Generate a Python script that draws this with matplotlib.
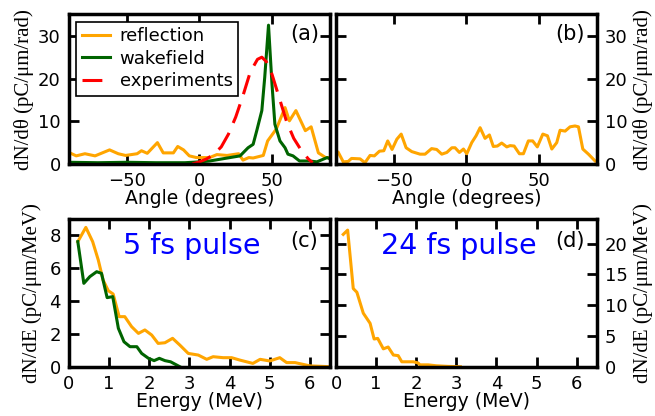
import matplotlib
matplotlib.use('Agg')
import matplotlib.pyplot as plt

# panel (a) angular distributions, 5 fs pulse
angle_refl_a = [-90, -85, -79, -72, -62, -56, -51, -43, -40, -36, -29, -25, -18, -15, -11, -7, -2,
                7, 12, 19, 27, 30, 34, 37, 44, 47, 53, 59, 62, 66.5, 73, 77, 82, 87, 90]
refl_a = [2.7, 1.9, 2.4, 1.9, 3.3, 2.4, 2.0, 2.4, 3.1, 2.5, 5.0, 2.6, 2.6, 4.1, 3.3, 1.9, 1.5,
          1.5, 2.2, 2.0, 2.4, 0.9, 1.5, 1.4, 2.0, 5.4, 8.2, 13.2, 10.1, 12.5, 7.8, 8.7, 2.6, 1.5, 1.5]
angle_wake_a = [-90, -70, -50, -30, -10, 0, 7, 14, 21, 28, 33.5, 37, 39.5, 43, 45, 47.6, 50, 52,
                55.5, 59, 61, 64.5, 69, 76, 81, 88, 90]
wake_a = [0.4, 0.3, 0.4, 0.3, 0.3, 0.5, 0.7, 1.1, 1.5, 1.9, 3.8, 4.6, 7.8, 12.5, 20.3, 32.5, 18.7, 9.3,
          5.4, 3.8, 2.3, 1.9, 0.7, 0.7, 0.5, 1.5, 1.2]
angle_exp = [-5, 0, 5, 10, 15, 20, 25, 30, 35, 40, 43, 46, 50, 55, 60, 65, 70, 75, 78]
exp_a = [0.0, 0.5, 1.2, 2.3, 4.0, 7.0, 11.0, 16.0, 21.5, 24.5, 25.0, 24.0, 21.0, 15.5, 10.0, 6.0, 3.3, 1.2, 0.3]

# panel (b) angular distribution, 24 fs pulse
angle_refl_b = [-88.4, -85, -81.6, -79.3, -73.4, -70, -66.5, -63.5, -60, -57, -54.3, -51.3, -48, -45,
                -41.6, -37.7, -32, -28.5, -24, -20.5, -17, -13.5, -10, -7.8, -4.8, -2, 0.3, 3.7, 6.7,
                9.5, 12.9, 15.9, 18.6, 21.4, 24.4, 27.9, 30.2, 33, 36.6, 39.4, 42.8, 45.8, 49, 52.8,
                56, 59, 62.4, 64.7, 68.2, 71.6, 75, 77.4, 80.4, 84.3, 88.9]
refl_b = [2.7, 0.5, 0.6, 1.3, 1.2, 0.3, 2.0, 1.9, 3.0, 3.1, 5.4, 3.4, 5.8, 7.0,
          3.8, 2.9, 2.3, 2.3, 3.6, 3.4, 2.3, 2.7, 3.8, 3.8, 2.7, 3.5, 2.4, 5.0, 6.6,
          8.5, 6.0, 6.8, 4.1, 4.2, 4.9, 4.0, 4.3, 4.2, 2.4, 2.4, 5.4, 5.4, 4.0, 7.0,
          6.6, 3.5, 5.0, 7.9, 7.7, 8.7, 8.9, 8.7, 3.5, 2.3, 0.7]

# panel (c) energy spectra, 5 fs pulse
energy_refl_c = [0.22, 0.42, 0.59, 0.73, 0.85, 0.98, 1.10, 1.25, 1.39, 1.56, 1.73, 1.89, 2.06, 2.22,
                 2.39, 2.58, 2.76, 2.97, 3.22, 3.43, 3.59, 3.84, 4.05, 4.26, 4.58, 4.76, 5.0, 5.25,
                 5.42, 5.63, 6.0, 6.5]
refl_c = [7.62, 8.49, 7.62, 6.50, 5.28, 4.63, 4.43, 3.05, 3.05, 2.44, 2.03, 2.24, 1.93, 1.42,
          1.46, 1.73, 1.32, 0.81, 0.71, 0.45, 0.61, 0.55, 0.55, 0.40, 0.20, 0.45, 0.35, 0.55,
          0.25, 0.25, 0.05, 0.0]
energy_wake_c = [0.22, 0.37, 0.52, 0.69, 0.81, 0.95, 1.09, 1.23, 1.37, 1.52, 1.69, 1.81, 1.98, 2.12,
                 2.25, 2.39, 2.53, 2.76]
wake_c = [7.62, 5.08, 5.49, 5.79, 5.69, 4.21, 4.27, 2.34, 1.52, 1.22, 1.22, 0.81, 0.51, 0.37,
          0.51, 0.37, 0.30, 0.0]

# panel (d) energy spectrum, 24 fs pulse
energy_refl_d = [0.18, 0.29, 0.43, 0.52, 0.68, 0.85, 0.95, 1.04, 1.18, 1.30, 1.43, 1.55, 1.64, 1.93,
                 2.05, 2.09, 2.3, 2.5, 2.8, 3.1]
refl_d = [21.5, 22.2, 12.7, 12.1, 8.7, 7.05, 4.5, 4.6, 2.9, 3.2, 1.9, 1.8, 0.8, 0.8,
          0.6, 0.3, 0.3, 0.15, 0.05, 0.0]

ORANGE = 'orange'
GREEN = 'darkgreen'
serif = ['Liberation Serif', 'DejaVu Serif']
FS = 13  # ticks and legend
LFS = 13.5  # x axis labels

plt.rcParams['font.family'] = ['DejaVu Sans']
plt.rcParams['font.size'] = FS
plt.rcParams['axes.linewidth'] = 2.5

fig = plt.figure(figsize=(6.55, 4.16), dpi=100)
ax_a = fig.add_axes([0.1053, 0.6058, 0.3985, 0.3594])
ax_b = fig.add_axes([0.5130, 0.6058, 0.3980, 0.3594])
ax_c = fig.add_axes([0.1053, 0.1185, 0.3985, 0.3550])
ax_d = fig.add_axes([0.5130, 0.1185, 0.3980, 0.3550])

for ax in (ax_a, ax_b, ax_c, ax_d):
    ax.tick_params(direction='in', length=7, width=2, top=True, right=True, bottom=True, left=True,
                   labelsize=FS, pad=6)

# (a)
ax_a.plot(angle_refl_a, refl_a, color=ORANGE, lw=2.2, label='reflection')
ax_a.plot(angle_wake_a, wake_a, color=GREEN, lw=2.2, label='wakefield')
ax_a.plot(angle_exp, exp_a, color='red', lw=2.2, dashes=[6.5, 3.5], label='experiments')
ax_a.set_xlim(-90, 90)
ax_a.set_ylim(0, 35)
ax_a.set_xticks([-50, 0, 50])
ax_a.set_yticks([0, 10, 20, 30])
ax_a.set_xlabel('Angle (degrees)', fontsize=LFS, labelpad=-1)
ax_a.set_ylabel('dN/d\u03b8 (pC/\u03bcm/rad)', family=serif, fontsize=15, labelpad=3)
ax_a.text(0.96, 0.87, '(a)', transform=ax_a.transAxes, ha='right', va='center', fontsize=15)
leg = ax_a.legend(loc='upper left', fontsize=FS, handlelength=1.6, fancybox=False, framealpha=1,
                  borderaxespad=0.4, labelspacing=0.25, handletextpad=0.5, borderpad=0.3)
leg.get_frame().set_edgecolor('black')
leg.get_frame().set_linewidth(1.2)

# (b)
ax_b.plot(angle_refl_b, refl_b, color=ORANGE, lw=2.2)
ax_b.set_xlim(-90, 90)
ax_b.set_ylim(0, 35)
ax_b.set_xticks([-50, 0, 50])
ax_b.set_yticks([0, 10, 20, 30])
ax_b.tick_params(labelleft=False, labelright=True)
ax_b.yaxis.set_label_position('right')
ax_b.set_xlabel('Angle (degrees)', fontsize=LFS, labelpad=-1)
ax_b.set_ylabel('dN/d\u03b8 (pC/\u03bcm/rad)', family=serif, fontsize=15, labelpad=4)
ax_b.text(0.955, 0.87, '(b)', transform=ax_b.transAxes, ha='right', va='center', fontsize=15)

# (c)
ax_c.plot(energy_refl_c, refl_c, color=ORANGE, lw=2.2)
ax_c.plot(energy_wake_c, wake_c, color=GREEN, lw=2.2)
ax_c.set_xlim(0, 6.5)
ax_c.set_ylim(0, 9)
ax_c.set_xticks(range(7))
ax_c.set_yticks([0, 2, 4, 6, 8])
ax_c.set_xlabel('Energy (MeV)', fontsize=LFS, labelpad=-1)
ax_c.set_ylabel('dN/dE (pC/\u03bcm/MeV)', family=serif, fontsize=15, labelpad=5)
ax_c.text(0.955, 0.85, '(c)', transform=ax_c.transAxes, ha='right', va='center', fontsize=15)
ax_c.text(0.47, 0.82, '5 fs pulse', transform=ax_c.transAxes, ha='center', va='center',
          fontsize=20.5, color='blue')

# (d)
ax_d.plot(energy_refl_d, refl_d, color=ORANGE, lw=2.2)
ax_d.set_xlim(0, 6.5)
ax_d.set_ylim(0, 24)
ax_d.set_xticks(range(7))
ax_d.set_yticks([0, 5, 10, 15, 20])
ax_d.tick_params(labelleft=False, labelright=True)
ax_d.yaxis.set_label_position('right')
ax_d.set_xlabel('Energy (MeV)', fontsize=LFS, labelpad=-1)
ax_d.set_ylabel('dN/dE (pC/\u03bcm/MeV)', family=serif, fontsize=15, labelpad=4)
ax_d.text(0.955, 0.85, '(d)', transform=ax_d.transAxes, ha='right', va='center', fontsize=15)
ax_d.text(0.47, 0.82, '24 fs pulse', transform=ax_d.transAxes, ha='center', va='center',
          fontsize=20.5, color='blue')

fig.savefig('out.png', dpi=100)
